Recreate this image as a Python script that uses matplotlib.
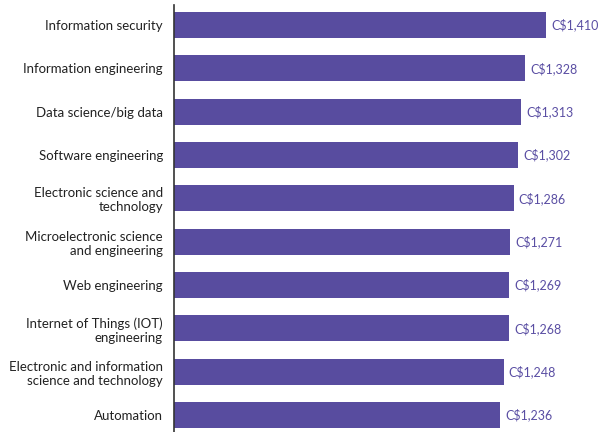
import matplotlib
matplotlib.use("Agg")
import matplotlib.pyplot as plt

categories = [
    "Information security",
    "Information engineering",
    "Data science/big data",
    "Software engineering",
    "Electronic science and\ntechnology",
    "Microelectronic science\nand engineering",
    "Web engineering",
    "Internet of Things (IOT)\nengineering",
    "Electronic and information\nscience and technology",
    "Automation",
]
values = [1410, 1328, 1313, 1302, 1286, 1271, 1269, 1268, 1248, 1236]

bar_color = "#584c9f"
text_color = "#5a4ea3"

plt.rcParams['font.family'] = ['Lato', 'DejaVu Sans']

fig = plt.figure(figsize=(6.01, 4.32), dpi=100)
ax = fig.add_axes([174/601, 0, (601-174)/601, 427/432])

y = list(range(len(categories)))
ax.barh(y, values, height=0.6, color=bar_color)
for yi, v in zip(y, values):
    ax.text(v + 20, yi, f"C${v:,}", va="center", ha="left", color=text_color, fontsize=9)

ax.set_xlim(0, 1617)
ax.set_ylim(9 + 0.39, -0.46)
ax.set_yticks(y)
ax.set_yticklabels(categories, fontsize=9.5, color="#222222")
ax.tick_params(axis="y", length=0, pad=8)
ax.set_xticks([])
for s in ["top", "right", "bottom"]:
    ax.spines[s].set_visible(False)
ax.spines["left"].set_color("#333333")
ax.spines["left"].set_linewidth(1.2)

fig.savefig("out.png", dpi=100)
